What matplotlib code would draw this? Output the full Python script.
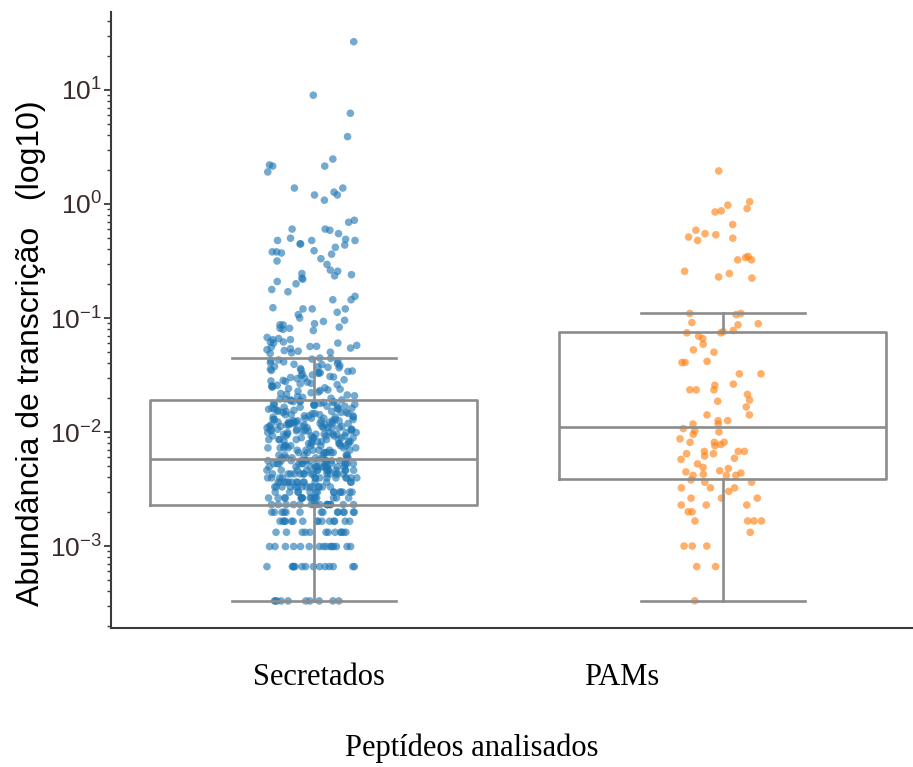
import numpy as np
import matplotlib
matplotlib.use('Agg')
import matplotlib.pyplot as plt
from matplotlib.ticker import LogLocator, NullFormatter

# ---------------- data ----------------
categories = ['Secretados', 'PAMs']
x_label = 'Peptídeos analisados'
y_label = 'Abundância de transcrição   (log10)'

read_unit = 0.00033  # smallest abundance step (values are multiples of it)

# quantized low abundances for Secretados: multiple k and number of points
sec_k = [1, 2, 3, 4, 5, 6, 7, 8, 9, 10, 11, 12, 13, 14, 15, 16, 17,
         18, 19, 20, 21, 22, 23, 24, 25, 26, 27, 28, 29, 30, 31, 32, 33, 34, 35, 36, 37, 38,
         39, 40, 41, 42, 43, 44, 45, 46, 47, 48, 49, 50, 51, 52, 53, 54, 55, 56, 57, 58, 59]
sec_n = [10, 14, 15, 12, 15, 14, 16, 16, 14, 14, 14, 13, 14, 13, 12, 12, 12,
         7, 6, 7, 6, 6, 7, 5, 6, 6, 5, 6, 6, 5, 6, 5, 6, 5, 5, 6, 5, 5,
         4, 3, 3, 3, 3, 3, 3, 3, 2, 3, 3, 2, 3, 2, 3, 2, 2, 3, 2, 2, 2]
sec_k_upper = [60, 61, 62, 63, 64, 65, 66, 67, 68, 69, 70, 71, 72, 73, 74, 75, 76, 77,
               78, 79, 80, 81, 83, 84, 85, 86, 87, 89, 90, 91, 92, 93, 95, 96, 98, 99,
               100, 101, 103, 104, 105, 106, 108, 109, 111, 112, 113, 114, 116, 118, 119,
               121, 123, 125, 127, 128, 130, 132, 134, 135,
               148, 150, 152, 155, 157, 160, 163, 165, 168, 171]
sec_mid_log10 = [-0.16, -0.23, -0.22, -0.22,
                 -0.32, -0.32, -0.30, -0.31, -0.36, -0.38, -0.35, -0.26, -0.32, -0.35,
                 -0.41, -0.43, -0.42, -0.44, -0.42,
                 -0.48, -0.50, -0.53, -0.63, -0.62, -0.61, -0.65, -0.66, -0.58, -0.59, -0.68,
                 -0.70, -0.75, -0.77, -0.84, -0.84, -0.81,
                 -0.91, -0.92, -0.92, -0.92, -0.97, -0.95,
                 -1.02, -1.06, -1.11, -1.09, -1.10, -1.05, -1.09, -1.08, -1.00, -1.06, -1.03,
                 -1.19, -1.19, -1.24, -1.21, -1.18, -1.25, -1.17, -1.22, -1.22, -1.21]
sec_high = [26.5, 9.0, 6.25, 3.9, 2.48, 2.2, 2.15, 2.15, 1.91, 1.38, 1.38, 1.27,
            1.2, 1.2, 1.08, 0.72]

pam_log10 = [0.29, 0.02, -0.04, -0.01, -0.06, -0.07, -0.18, -0.23, -0.27, -0.30, -0.26,
             -0.32, -0.29, -0.47, -0.49, -0.46, -0.49, -0.61, -0.59, -0.65, -0.64,
             -0.97, -0.96, -0.96, -1.04, -1.05, -1.06, -1.12, -1.11, -1.16, -1.13, -1.13,
             -1.18, -1.23, -1.28, -1.30, -1.39, -1.39, -1.38, -1.49, -1.49, -1.59, -1.63,
             -1.63, -1.63, -1.58, -1.67, -1.73, -1.72, -1.78, -1.85, -1.85, -1.90, -1.93,
             -1.90, -1.97, -1.93, -2.02, -2.00, -1.99, -2.06, -2.09, -2.12, -2.09, -2.09,
             -2.11, -2.17, -2.19, -2.19, -2.23, -2.21, -2.17, -2.17, -2.24, -2.28, -2.31,
             -2.32, -2.34, -2.38, -2.35, -2.37, -2.38, -2.36, -2.38, -2.44, -2.44, -2.42,
             -2.49, -2.49, -2.49, -2.58, -2.58, -2.58, -2.52, -2.64, -2.64, -2.64, -2.70,
             -2.70, -2.78, -2.78, -2.78, -2.78, -2.88, -3.00, -3.00, -3.00, -3.18, -3.18,
             -3.48]

# box statistics
box_whislo = [0.00033, 0.00033]
box_q1 = [0.0023, 0.0039]
box_med = [0.0058, 0.0111]
box_q3 = [0.019, 0.0753]
box_whishi = [0.0446, 0.111]

# ---------------- styling ----------------
sans = ['Liberation Sans', 'DejaVu Sans']
serif = ['Liberation Serif', 'DejaVu Serif']
plt.rcParams['font.family'] = sans
plt.rcParams['mathtext.default'] = 'regular'

colors = ['#1f77b4', '#ff7f0e']
box_gray = '#8c8c8c'

fig = plt.figure(figsize=(9.13, 7.67), dpi=100)
ax = fig.add_axes([111 / 913, 1 - 628 / 767, 1 - 111 / 913, (628 - 12) / 767])
ax.set_yscale('log')

sec_values = np.concatenate([
    np.repeat(np.array(sec_k) * read_unit, sec_n),
    np.array(sec_k_upper) * read_unit,
    10 ** np.array(sec_mid_log10),
    np.array(sec_high),
])
pam_values = 10 ** np.array(pam_log10)

rng = np.random.default_rng(3)
positions = [0, 1]
jitter = [0.11, 0.1]
for pos, vals, col, jw in zip(positions, [sec_values, pam_values], colors, jitter):
    xs = pos - 0.005 + rng.uniform(-jw, jw, len(vals))
    ax.scatter(xs, vals, s=30, color=col, alpha=0.62, edgecolors='none', zorder=2)

stats = []
for i, name in enumerate(categories):
    stats.append(dict(label=name, whislo=box_whislo[i], q1=box_q1[i], med=box_med[i],
                      q3=box_q3[i], whishi=box_whishi[i], fliers=[]))
lp = dict(color=box_gray, linewidth=1.9)
ax.bxp(stats, positions=positions, widths=0.8, capwidths=0.4, showfliers=False,
       boxprops=lp, whiskerprops=lp, capprops=lp, medianprops=lp,
       manage_ticks=False, zorder=3)

ax.set_xlim(-0.496, 1.465)
ax.set_ylim(10 ** -3.719, 10 ** 1.684)

for s in ['top', 'right']:
    ax.spines[s].set_visible(False)
for s in ['left', 'bottom']:
    ax.spines[s].set_color('#3a3a3a')
    ax.spines[s].set_linewidth(1.5)

ax.yaxis.set_major_locator(LogLocator(base=10, numticks=20))
ax.yaxis.set_minor_locator(LogLocator(base=10, subs=np.arange(2, 10), numticks=20))
ax.yaxis.set_minor_formatter(NullFormatter())
ax.tick_params(axis='y', which='major', length=5, width=1.3, color='#3a3a3a',
               labelsize=19, labelcolor='#3b2a2a', pad=1.5)
ax.tick_params(axis='y', which='minor', length=3, width=1.0, color='#3a3a3a')

ax.set_xticks([0.012, 0.752])
ax.set_xticklabels(categories, fontfamily=serif, fontsize=22)
ax.tick_params(axis='x', length=0, pad=25)

fig.text(472 / 913, 1 - 748 / 767, x_label, ha='center', va='center',
         fontsize=22, family=serif)
fig.text(31 / 913, 1 - 353 / 767, y_label, ha='center', va='center',
         rotation=90, fontsize=23, family=sans)

fig.savefig('out.png', dpi=100)
